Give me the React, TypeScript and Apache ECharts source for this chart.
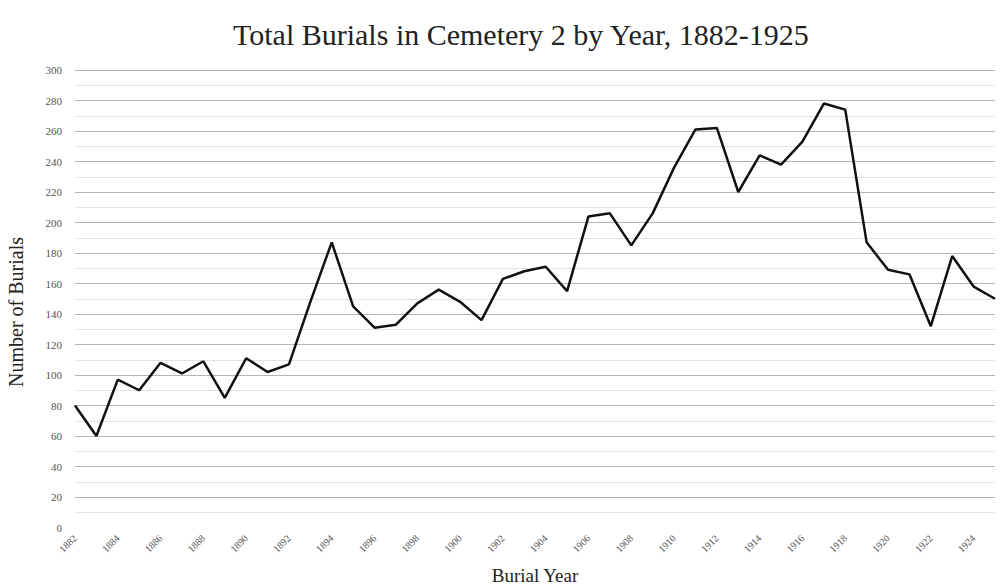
import React, { useEffect, useRef } from "react";
import * as echarts from "echarts";

const years = [
  "1882", "1883", "1884", "1885", "1886", "1887", "1888", "1889", "1890", "1891",
  "1892", "1893", "1894", "1895", "1896", "1897", "1898", "1899", "1900", "1901",
  "1902", "1903", "1904", "1905", "1906", "1907", "1908", "1909", "1910", "1911",
  "1912", "1913", "1914", "1915", "1916", "1917", "1918", "1919", "1920", "1921",
  "1922", "1923", "1924", "1925",
];

const burials = [
  80, 60, 97, 90, 108, 101, 109, 85, 111, 102,
  107, 148, 187, 145, 131, 133, 147, 156, 148, 136,
  163, 168, 171, 155, 204, 206, 185, 206, 236, 261,
  262, 220, 244, 238, 253, 278, 274, 187, 169, 166,
  132, 178, 158, 150,
];

const FONT = "'Liberation Serif', 'DejaVu Serif', serif";

export default function App() {
  const ref = useRef<HTMLDivElement>(null);
  useEffect(() => {
    document.body.style.margin = "0";
    if (!ref.current) return;
    const chart = echarts.init(ref.current, null, { renderer: "svg" });
    chart.setOption({
      animation: false,
      backgroundColor: "#ffffff",
      title: {
        text: "Total Burials in Cemetery 2 by Year, 1882-1925",
        left: 228,
        top: 14,
        textStyle: { fontFamily: FONT, fontSize: 30, fontWeight: "normal", color: "#222" },
      },
      graphic: [
        {
          type: "text",
          x: 16,
          y: 312,
          rotation: Math.PI / 2,
          style: {
            text: "Number of Burials",
            fontFamily: FONT,
            fontSize: 20,
            fill: "#222",
            align: "center",
            verticalAlign: "middle",
          },
        },
      ],
      grid: {
        left: 75,
        right: 10,
        top: 70,
        bottom: 59.5,
        containLabel: false,
        outerBoundsMode: "none",
      },
      xAxis: {
        type: "category",
        data: years,
        boundaryGap: false,
        name: "Burial Year",
        nameLocation: "middle",
        nameGap: 38,
        nameTextStyle: { fontFamily: FONT, fontSize: 19, color: "#222" },
        axisLine: { show: false },
        axisTick: { show: false },
        axisLabel: {
          interval: 1,
          rotate: 45,
          fontFamily: FONT,
          fontSize: 10,
          color: "#555",
          margin: 9,
        },
        splitLine: { show: false },
      },
      yAxis: {
        type: "value",
        min: 0,
        max: 300,
        interval: 20,
        axisLine: { show: false },
        axisTick: { show: false },
        axisLabel: { fontFamily: FONT, fontSize: 11, color: "#555", margin: 13 },
        splitLine: { show: true, showMinLine: false, lineStyle: { color: "#b5b5b5", width: 1 } },
        minorTick: { show: false, splitNumber: 2 },
        minorSplitLine: { show: true, lineStyle: { color: "#e2e2e2", width: 1 } },
      },
      series: [
        {
          type: "line",
          data: burials,
          symbol: "none",
          lineStyle: { color: "#111", width: 2.5 },
        },
      ],
    });
    return () => chart.dispose();
  }, []);
  return <div ref={ref} style={{ width: 1005, height: 587 }} />;
}
